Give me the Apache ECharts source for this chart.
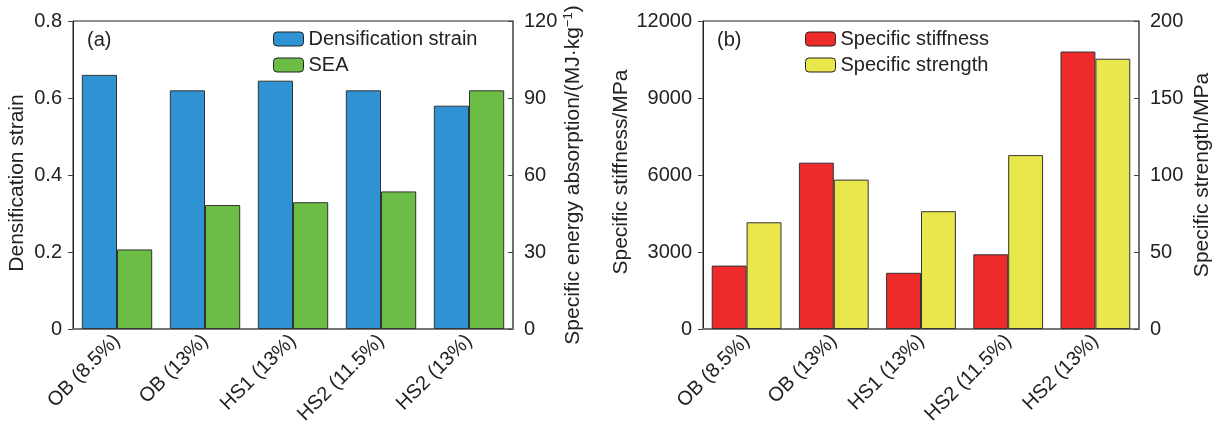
<!DOCTYPE html>
<html>
<head>
<meta charset="utf-8">
<script src="https://cdn.jsdelivr.net/npm/echarts@6/dist/echarts.min.js"></script>
<style>html,body{margin:0;padding:0;background:#fff}#c{width:1220px;height:432px}</style>
</head>
<body>
<div id="c"></div>
<script>
const categories = ['OB (8.5%)', 'OB (13%)', 'HS1 (13%)', 'HS2 (11.5%)', 'HS2 (13%)'];
const densificationStrain = [0.66, 0.62, 0.645, 0.62, 0.58];
const sea = [31, 48.3, 49.4, 53.6, 93];
const specificStiffness = [2470, 6480, 2190, 2910, 10810];
const specificStrength = [69.3, 97, 76.5, 112.9, 175.5];
const leftTicks = {min: 0, max: 0.8, interval: 0.2};
const seaTicks = {min: 0, max: 120, interval: 30};
const stiffTicks = {min: 0, max: 12000, interval: 3000};
const strengthTicks = {min: 0, max: 200, interval: 50};

const FONT = 'Liberation Sans, Arial, sans-serif';
const TXT = '#222';
const chart = echarts.init(document.getElementById('c'));

function xAxis(gi) {
  return {
    type: 'category', gridIndex: gi, data: categories,
    axisTick: {show: false},
    axisLine: {lineStyle: {color: '#777', width: 2}},
    axisLabel: {rotate: 45, fontSize: 20, color: TXT, fontFamily: FONT, margin: 9, interval: 0}
  };
}
function yAxis(gi, pos, t, name, gap, nameSize, extra) {
  const a = {
    type: 'value', gridIndex: gi, position: pos,
    min: t.min, max: t.max, interval: t.interval,
    splitLine: {show: false},
    axisLine: {show: true, lineStyle: pos === 'left' ? {color: '#222', width: 1} : {color: '#666', width: 1.5}},
    axisTick: {show: true, inside: pos !== 'left', length: 5, lineStyle: {color: '#444', width: 1}},
    axisLabel: {fontSize: 20, color: TXT, fontFamily: FONT, margin: 11, formatter: v => String(v)},
    name: name, nameLocation: 'middle', nameGap: gap,
    nameTextStyle: {fontSize: nameSize, color: TXT, fontFamily: FONT}
  };
  if (extra) Object.assign(a.nameTextStyle, extra);
  return a;
}
const barBorder = {borderColor: '#333', borderWidth: 1};

chart.setOption({
  animation: false,
  textStyle: {fontFamily: FONT},
  grid: [
    {left: 73, top: 21, width: 440, height: 308, show: true, borderColor: '#222', borderWidth: 1},
    {left: 703, top: 21, width: 436, height: 308, show: true, borderColor: '#222', borderWidth: 1}
  ],
  title: [
    {text: '(a)', left: 87, top: 30, padding: 0, textStyle: {fontSize: 20, fontWeight: 'normal', color: TXT, fontFamily: FONT}},
    {text: '(b)', left: 717, top: 30, padding: 0, textStyle: {fontSize: 20, fontWeight: 'normal', color: TXT, fontFamily: FONT}}
  ],
  legend: [
    {orient: 'vertical', left: 273, top: 29, padding: 0, itemWidth: 30, itemHeight: 14, itemGap: 6,
     textStyle: {fontSize: 20, color: TXT, fontFamily: FONT}, data: ['Densification strain', 'SEA'],
     itemStyle: {borderColor: '#222', borderWidth: 1}},
    {orient: 'vertical', left: 805, top: 29, padding: 0, itemWidth: 30, itemHeight: 14, itemGap: 6,
     textStyle: {fontSize: 20, color: TXT, fontFamily: FONT}, data: ['Specific stiffness', 'Specific strength'],
     itemStyle: {borderColor: '#222', borderWidth: 1}}
  ],
  xAxis: [xAxis(0), xAxis(1)],
  yAxis: [
    yAxis(0, 'left', leftTicks, 'Densification strain', 45, 21, {padding: [0, 16, 0, 0]}),
    yAxis(0, 'right', seaTicks, 'Specific energy absorption/(MJ·kg{sup|−1})', 49, 21,
      {rich: {sup: {fontSize: 13, color: TXT, fontFamily: FONT, verticalAlign: 'top', padding: [0, 0, 9, 0]}}}),
    yAxis(1, 'left', stiffTicks, 'Specific stiffness/MPa', 71, 21, {padding: [0, 0, 0, 6]}),
    yAxis(1, 'right', strengthTicks, 'Specific strength/MPa', 53, 21)
  ],
  series: [
    {name: 'Densification strain', type: 'bar', xAxisIndex: 0, yAxisIndex: 0, data: densificationStrain,
     barGap: '0%', barCategoryGap: '20%', itemStyle: Object.assign({color: '#2f93d3'}, barBorder)},
    {name: 'SEA', type: 'bar', xAxisIndex: 0, yAxisIndex: 1, data: sea,
     barGap: '0%', barCategoryGap: '20%', itemStyle: Object.assign({color: '#6cbd45'}, barBorder)},
    {name: 'Specific stiffness', type: 'bar', xAxisIndex: 1, yAxisIndex: 2, data: specificStiffness,
     barGap: '0%', barCategoryGap: '20%', itemStyle: Object.assign({color: '#ee2a2a'}, barBorder)},
    {name: 'Specific strength', type: 'bar', xAxisIndex: 1, yAxisIndex: 3, data: specificStrength,
     barGap: '0%', barCategoryGap: '20%', itemStyle: Object.assign({color: '#e9e74b'}, barBorder)}
  ]
});
</script>
</body>
</html>
